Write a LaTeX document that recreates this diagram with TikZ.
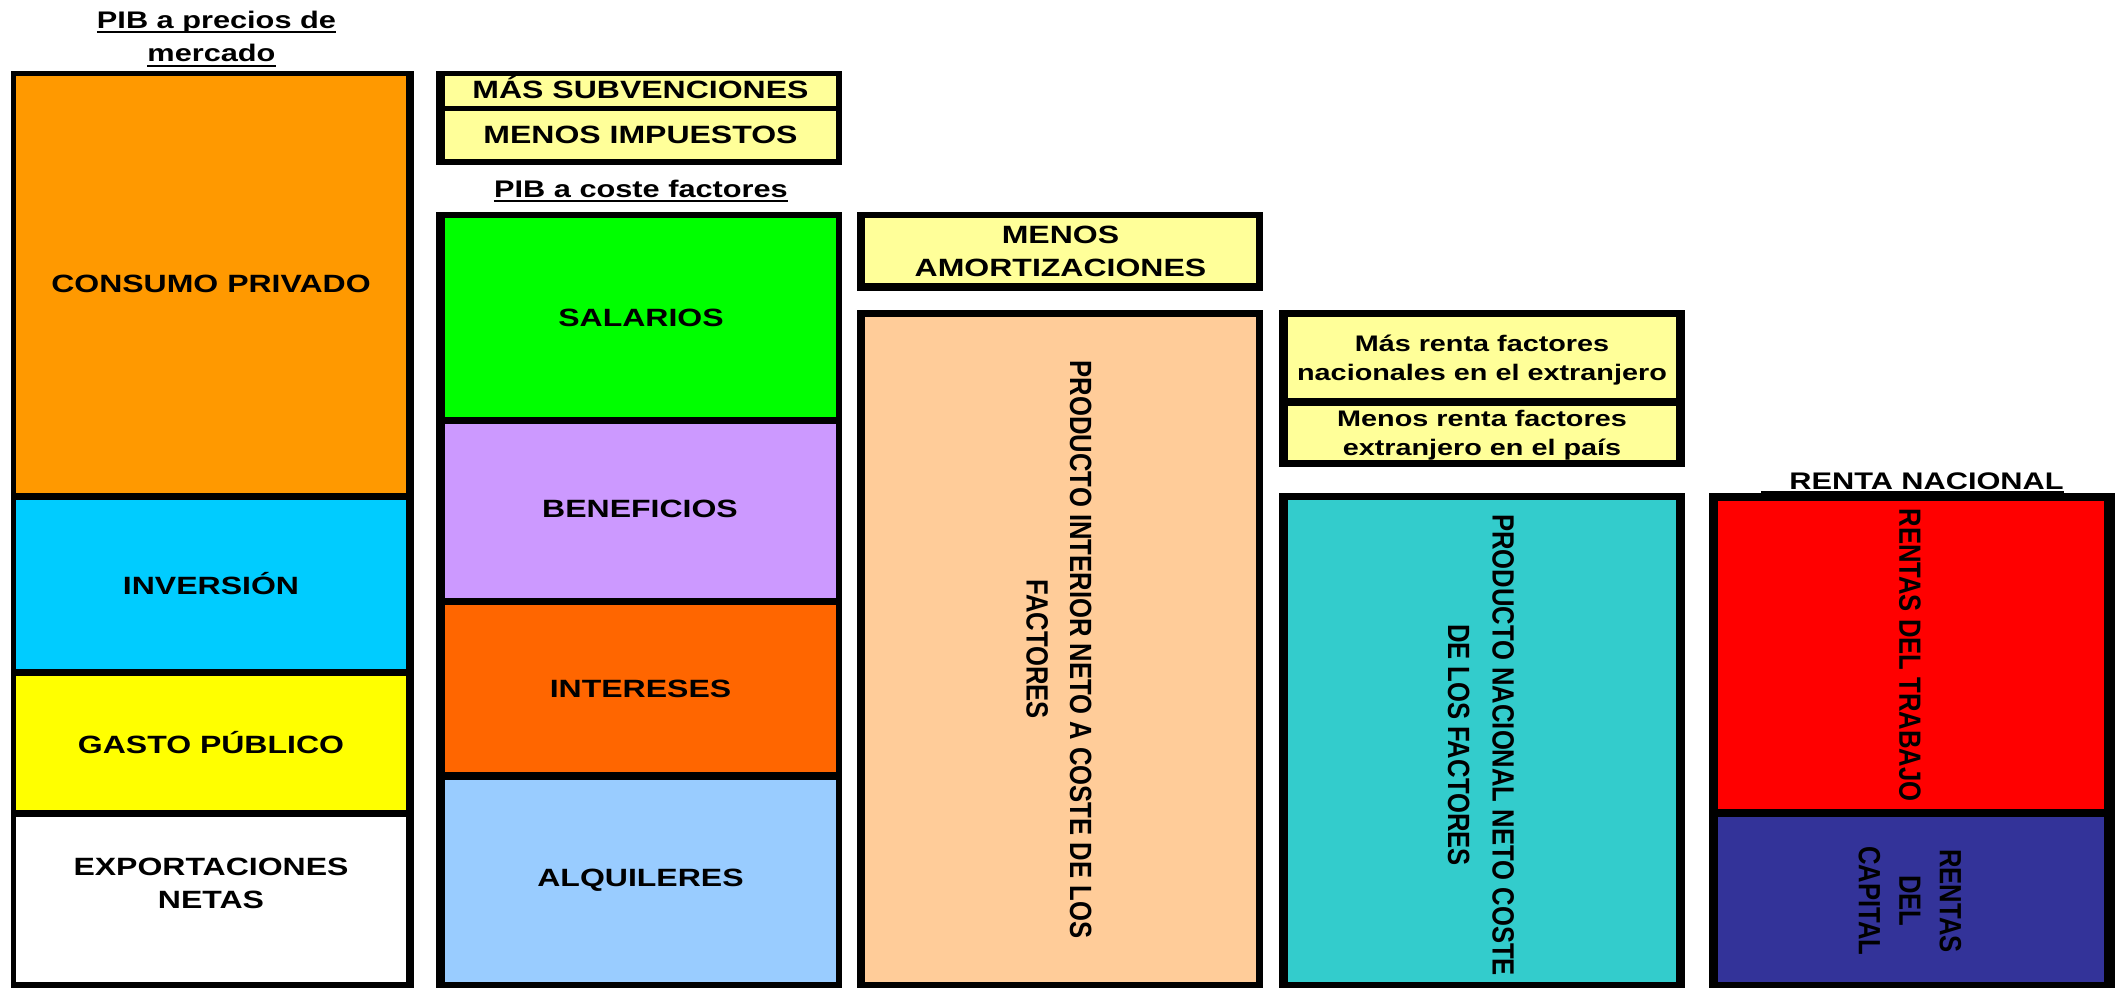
\documentclass[tikz,border=0pt]{standalone}
\usepackage{fontspec}
\newfontfamily\hfont{Liberation Sans}[FakeStretch=1.28]
\newfontfamily\vfont{Liberation Sans}[FakeStretch=0.835]
\definecolor{cOrange}{HTML}{FF9900}
\definecolor{cCyan}{HTML}{00CCFF}
\definecolor{cYellow}{HTML}{FFFF00}
\definecolor{cGreen}{HTML}{00FF00}
\definecolor{cLilac}{HTML}{CC99FF}
\definecolor{cOrange2}{HTML}{FF6600}
\definecolor{cLBlue}{HTML}{99CCFF}
\definecolor{cPale}{HTML}{FFFF99}
\definecolor{cPeach}{HTML}{FFCC99}
\definecolor{cTeal}{HTML}{33CCCC}
\definecolor{cRed}{HTML}{FF0000}
\definecolor{cNavy}{HTML}{333399}
\tikzset{
  frame/.style={fill=black},
  cell/.style={anchor=north west, inner sep=0pt, outer sep=0pt, draw=none},
  hlab/.style={inner sep=0pt, align=center, text=black, font=\hfont\bfseries\fontsize{25}{33}\selectfont},
  ttl/.style={inner sep=0pt, anchor=base, text=black, font=\hfont\bfseries\fontsize{24}{33}\selectfont},
  slab/.style={inner sep=0pt, align=center, text=black, font=\hfont\bfseries\fontsize{22.5}{29}\selectfont},
  vlab/.style={inner sep=0pt, align=center, rotate=-90, text=black, font=\vfont\bfseries\fontsize{30.7}{43.5}\selectfont},
  ul/.style={line width=2.5pt, black},
}
\begin{document}
\begin{tikzpicture}[x=1pt,y=-1pt]
\useasboundingbox (0,0) rectangle (2121,988);
\fill[white] (0,0) rectangle (2121,988);
% black frames
\fill[frame] (11,71) rectangle (414,988);
\fill[frame] (436,71) rectangle (842,165);
\fill[frame] (436,212) rectangle (842,988);
\fill[frame] (857,212) rectangle (1263,291);
\fill[frame] (857,310) rectangle (1263,988);
\fill[frame] (1279,310) rectangle (1685,467);
\fill[frame] (1279,493) rectangle (1685,988);
\fill[frame] (1709,493) rectangle (2115,988);
% column 1
\node[cell, fill=cOrange, minimum width=390pt, minimum height=417pt] (consumo) at (16,76) {};
\node[cell, fill=cCyan, minimum width=390pt, minimum height=169pt] (inversion) at (16,500) {};
\node[cell, fill=cYellow, minimum width=390pt, minimum height=134pt] (gasto) at (16,676) {};
\node[cell, fill=white, minimum width=390pt, minimum height=165pt] (export) at (16,817) {};
% column 2
\node[cell, fill=cPale, minimum width=391pt, minimum height=30pt] (subv) at (445,76) {};
\node[cell, fill=cPale, minimum width=391pt, minimum height=48pt] (impu) at (445,111) {};
\node[cell, fill=cGreen, minimum width=391pt, minimum height=199pt] (salarios) at (445,218) {};
\node[cell, fill=cLilac, minimum width=391pt, minimum height=174pt] (benef) at (445,424) {};
\node[cell, fill=cOrange2, minimum width=391pt, minimum height=167pt] (inter) at (445,605) {};
\node[cell, fill=cLBlue, minimum width=391pt, minimum height=202pt] (alqui) at (445,780) {};
% column 3
\node[cell, fill=cPale, minimum width=391pt, minimum height=65pt] (amort) at (865,218) {};
\node[cell, fill=cPeach, minimum width=391pt, minimum height=665pt] (pin) at (865,317) {};
% column 4
\node[cell, fill=cPale, minimum width=388pt, minimum height=81pt] (mas) at (1288,317) {};
\node[cell, fill=cPale, minimum width=388pt, minimum height=54pt] (menos) at (1288,406) {};
\node[cell, fill=cTeal, minimum width=388pt, minimum height=482pt] (pnn) at (1288,500) {};
% column 5
\node[cell, fill=cRed, minimum width=386pt, minimum height=308pt] (trabajo) at (1718,501) {};
\node[cell, fill=cNavy, minimum width=386pt, minimum height=165pt] (capital) at (1718,817) {};
% labels
\node[hlab] (lconsumo) at (211,284) {CONSUMO PRIVADO};
\node[hlab] (linversion) at (211,584) {INVERSIÓN};
\node[hlab] (lgasto) at (211,743) {GASTO PÚBLICO};
\node[hlab] (lexport) at (211,883) {EXPORTACIONES\\NETAS};
\node[hlab] (lsubv) at (640.5,88) {MÁS SUBVENCIONES};
\node[hlab] (limpu) at (640.5,135) {MENOS IMPUESTOS};
\node[hlab] (lsal) at (641,317.5) {SALARIOS};
\node[hlab] (lben) at (640,509) {BENEFICIOS};
\node[hlab] (lint) at (640.5,688.5) {INTERESES};
\node[hlab] (lalq) at (640.5,880.5) {ALQUILERES};
\node[hlab] (lamort) at (1060.5,251) {MENOS\\AMORTIZACIONES};
\node[slab] (lmas) at (1482,360.5) {Más renta factores\\nacionales en el extranjero};
\node[slab] (lmenos) at (1482,435.5) {Menos renta factores\\extranjero en el país};
\node[vlab] (lpin) at (1059,649.5) {PRODUCTO INTERIOR NETO A COSTE DE LOS\\FACTORES};
\node[vlab, font=\vfont\bfseries\fontsize{30.7}{44.5}\selectfont] (lpnn) at (1481,745) {PRODUCTO NACIONAL NETO COSTE\\DE LOS FACTORES};
\node[vlab] (ltrab) at (1910,655) {RENTAS DEL TRABAJO};
\node[vlab, font=\vfont\bfseries\fontsize{30.7}{40.5}\selectfont] (lcap) at (1910,901) {RENTAS\\DEL\\CAPITAL};
% titles
\node[ttl] (t1a) at (216.5,28) {PIB a precios de};
\node[ttl] (t1b) at (211.5,61) {mercado};
\node[ttl] (t2) at (641,197) {PIB a coste factores};
\node[ttl] (t5) at (1926.5,489) {RENTA NACIONAL};
\draw[ul] ([yshift=-4pt]t1a.base west) -- ([yshift=-4pt]t1a.base east);
\draw[ul] ([yshift=-5pt]t1b.base west) -- ([yshift=-5pt]t1b.base east);
\draw[ul] ([yshift=-4pt]t2.base west) -- ([yshift=-4pt]t2.base east);
\draw[ul] ([xshift=-28pt,yshift=-3pt]t5.base west) -- ([yshift=-3pt]t5.base east);
\end{tikzpicture}
\end{document}
